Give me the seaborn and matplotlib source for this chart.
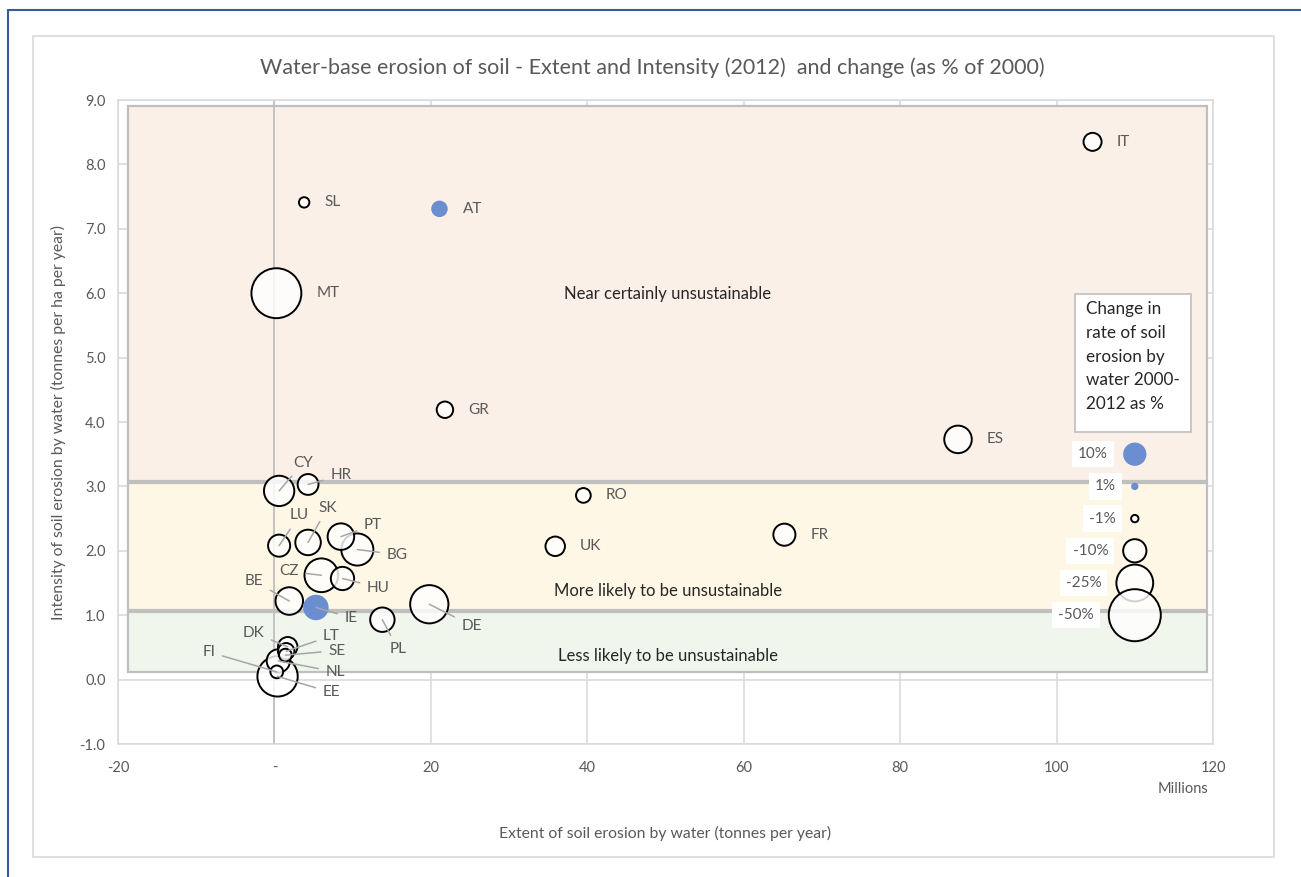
import numpy as np
import pandas as pd
import matplotlib.pyplot as plt
import seaborn as sns
from matplotlib.patches import Rectangle
from matplotlib.lines import Line2D
from matplotlib.ticker import FuncFormatter, MultipleLocator

# data
countries = ["IT", "SL", "AT", "MT", "GR", "ES", "CY", "HR", "RO", "LU", "SK", "PT", "BG", "UK",
             "FR", "CZ", "HU", "BE", "IE", "DE", "PL", "DK", "LT", "SE", "NL", "FI", "EE"]
extent = [104.6, 3.8, 21.1, 0.25, 21.8, 87.4, 0.6, 4.3, 39.5, 0.6, 4.3, 8.5, 10.6, 35.9,
          65.2, 6.0, 8.7, 1.9, 5.3, 19.8, 13.8, 1.7, 1.5, 1.4, 0.5, 0.3, 0.4]
intensity = [8.35, 7.41, 7.31, 6.0, 4.19, 3.73, 2.93, 3.03, 2.86, 2.08, 2.13, 2.22, 2.02, 2.07,
             2.25, 1.62, 1.57, 1.22, 1.12, 1.17, 0.93, 0.51, 0.44, 0.38, 0.29, 0.12, 0.05]
change = [-6, -2, 5, -46, -5, -14, -17, -8, -4, -9, -12, -13, -19, -7,
          -9, -21, -10, -14, 12, -27, -11, -7, -5, -3, -10, -3, -30]

# bubble size key
key_labels = ["10%", "1%", "-1%", "-10%", "-25%", "-50%"]
key_change = [10, 1, -1, -10, -25, -50]
key_y = [3.5, 3.0, 2.5, 2.0, 1.5, 1.0]
key_x = 110

# sustainability bands
band_names = ["Near certainly unsustainable", "More likely to be unsustainable",
              "Less likely to be unsustainable"]
band_low = [3.08, 1.08, 0.12]
band_high = [8.9, 3.05, 1.05]
band_colors = ["#FBF0E8", "#FFF7E6", "#F0F6EC"]
band_text_y = [5.99, 1.37, 0.37]

# text positions for the labels that have leader lines
leader_pos = {
    "CY": (3.7, 3.37), "HR": (8.5, 3.17), "LU": (3.2, 2.55), "SK": (6.8, 2.67),
    "PT": (12.6, 2.4), "BG": (15.7, 1.94), "CZ": (1.8, 1.68), "HU": (13.3, 1.43),
    "BE": (-2.6, 1.53), "IE": (9.8, 0.96), "DE": (25.2, 0.84), "PL": (15.8, 0.47),
    "DK": (-2.7, 0.73), "LT": (7.3, 0.68), "SE": (8.0, 0.45), "NL": (7.8, 0.12),
    "FI": (-8.4, 0.43), "EE": (7.3, -0.2),
}

BLUE = "#6A8ECF"
GREY = "#595959"
K = 28.08  # marker area (pt^2) per 1% of change

sns.set_theme(style="white")
plt.rcParams["font.family"] = ["Lato", "DejaVu Sans"]

df = pd.DataFrame({"country": countries, "extent": extent, "intensity": intensity, "change": change})
df["size"] = df["change"].abs()
df = df.sort_values("size", ascending=False)

key = pd.DataFrame({"label": key_labels, "change": key_change, "y": key_y})
key["x"] = key_x
key["size"] = key["change"].abs()

fig = plt.figure(figsize=(13.01, 8.77), dpi=100)
ax = fig.add_axes([118 / 1301, 1 - 744 / 877, 1095 / 1301, 644 / 877])

# background bands
for lo, hi, col, name, ty in zip(band_low, band_high, band_colors, band_names, band_text_y):
    ax.add_patch(Rectangle((-18.7, lo), 137.9, hi - lo, facecolor=col, edgecolor="#BFBFBF",
                           linewidth=1.6, zorder=1))
    ax.text(50.3, ty, name, ha="center", va="center", fontsize=12, color="#262626", zorder=2)

ax.axvline(0, color="#BFBFBF", linewidth=1.3, zorder=1.5)

size_kw = dict(size="size", sizes=(K * 1, K * 50), size_norm=(1, 50), legend=False)
open_kw = dict(color=(1, 1, 1, 0.82), edgecolor="black", linewidth=1.4, zorder=3)
fill_kw = dict(color=BLUE, edgecolor="none", linewidth=0, zorder=3)

for frame, xcol, ycol in [(df, "extent", "intensity"), (key, "x", "y")]:
    neg = frame[frame["change"] < 0]
    pos = frame[frame["change"] > 0]
    sns.scatterplot(data=neg, x=xcol, y=ycol, ax=ax, **size_kw, **open_kw)
    sns.scatterplot(data=pos, x=xcol, y=ycol, ax=ax, **size_kw, **fill_kw)

# country labels
for _, row in df.iterrows():
    r_px = 3.68 * np.sqrt(row["size"])
    name = row["country"]
    if name in leader_pos:
        ax.annotate(name, xy=(row["extent"], row["intensity"]), xytext=leader_pos[name],
                    ha="center", va="center", fontsize=11, color=GREY, zorder=5,
                    arrowprops=dict(arrowstyle="-", color="#A6A6A6", linewidth=1.1,
                                    shrinkA=3, shrinkB=0))
    else:
        ax.annotate(name, xy=(row["extent"], row["intensity"]),
                    xytext=((r_px + 15) * 0.72, 0), textcoords="offset points",
                    ha="left", va="center", fontsize=11, color=GREY, zorder=5)

# key labels
for _, row in key.iterrows():
    r_px = 3.68 * np.sqrt(row["size"])
    ax.annotate(row["label"], xy=(row["x"], row["y"]), xytext=(-(r_px + 15) * 0.72, 0),
                textcoords="offset points", ha="right", va="center", fontsize=11, color=GREY,
                zorder=5, bbox=dict(boxstyle="square,pad=0.4", facecolor="white", edgecolor="none"))

# key title box
ax.add_patch(Rectangle((102.3, 3.85), 14.9, 2.14, facecolor="white", edgecolor="#BFBFBF",
                       linewidth=1.2, zorder=4))
ax.text(103.8, 5.88, "Change in\nrate of soil\nerosion by\nwater 2000-\n2012 as %",
        ha="left", va="top", fontsize=12.3, color="#262626", linespacing=1.6, zorder=5)

ax.set_xlim(-20, 120)
ax.set_ylim(-1, 9)
ax.xaxis.set_major_locator(MultipleLocator(20))
ax.yaxis.set_major_locator(MultipleLocator(1))
ax.xaxis.set_major_formatter(FuncFormatter(lambda v, p: "-" if v == 0 else f"{v:.0f}"))
ax.yaxis.set_major_formatter(FuncFormatter(lambda v, p: f"{v:.1f}"))
ax.grid(True, color="#D9D9D9", linewidth=1.1, zorder=0)
ax.set_axisbelow(True)
for sp in ax.spines.values():
    sp.set_color("#D9D9D9")
    sp.set_linewidth(1.1)
ax.tick_params(axis="both", length=0, labelsize=10.5, labelcolor=GREY)
ax.tick_params(axis="x", pad=12)
ax.tick_params(axis="y", pad=9)

ax.set_xlabel("Extent of soil erosion by water (tonnes per year)", fontsize=11.3, color=GREY)
ax.set_ylabel("Intensity of soil erosion by water (tonnes per ha per year)", fontsize=11.3, color=GREY)
ax.xaxis.set_label_coords(0.5, -82 / 644)
ax.yaxis.set_label_coords(-52 / 1095, 0.5)
ax.text(0.9954, -45 / 644, "Millions", transform=ax.transAxes, ha="right", va="center",
        fontsize=10.5, color=GREY)

fig.text(652 / 1301, 1 - 68 / 877,
         "Water-base erosion of soil - Extent and Intensity (2012)  and change (as % of 2000)",
         ha="center", va="center", fontsize=15.5, color=GREY)

# chart frame
fig.add_artist(Rectangle((33 / 1301, 1 - 857 / 877), 1241 / 1301, 821 / 877, fill=False,
                         edgecolor="#D9D9D9", linewidth=1.2, transform=fig.transFigure))
fig.add_artist(Line2D([8 / 1301, 8 / 1301], [0, 1 - 10 / 877], color="#3A5A9A", linewidth=1.5,
                      transform=fig.transFigure))
fig.add_artist(Line2D([8 / 1301, 1], [1 - 10 / 877, 1 - 10 / 877], color="#3A5A9A", linewidth=1.5,
                      transform=fig.transFigure))

fig.savefig("out.png", dpi=100, facecolor="white")
